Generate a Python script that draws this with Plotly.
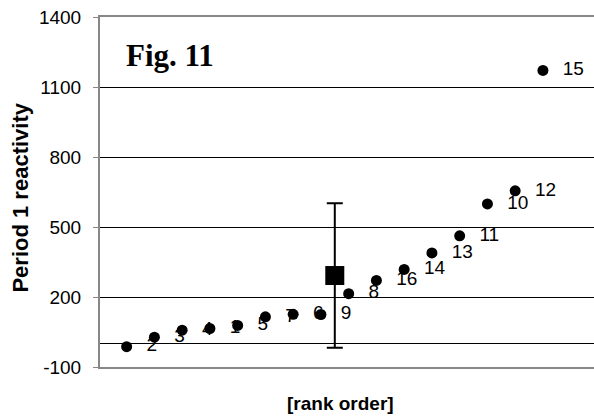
import plotly.graph_objects as go

# Period 1 reactivity of the 16 subjects, sorted in rank order
rank = list(range(1, 17))
subject_ids = ["2", "3", "4", "1", "5", "7", "6", "9", "8", "16", "14", "13", "11", "10", "12", "15"]
reactivity = [-13, 28, 58, 65, 78, 115, 126, 125, 214, 271, 318, 389, 462, 599, 655, 1171]

# group mean and standard deviation, placed between ranks 8 and 9
mean_position = [8.5]
mean_value = [292]
mean_sd = [310]

y_ticks = [-100, 200, 500, 800, 1100, 1400]
y_tick_labels = ["-100", "200", "500", "800", "1100", "1400"]

SANS = "Liberation Sans, Arial, sans-serif"
AXIS_GREY = "#878787"

fig = go.Figure()

# subject number labels (placed to the right of each point, under the markers)
fig.add_trace(go.Scatter(
    x=rank, y=reactivity, mode="markers+text",
    text=subject_ids, textposition="middle right",
    textfont=dict(family=SANS, size=19, color="black"),
    marker=dict(size=30, color="rgba(0,0,0,0)"),
    hoverinfo="skip", showlegend=False,
))

# individual subjects
fig.add_trace(go.Scatter(
    x=rank, y=reactivity, mode="markers",
    marker=dict(size=11, color="black", symbol="circle"),
    showlegend=False,
))

# mean with SD error bar
fig.add_trace(go.Scatter(
    x=mean_position, y=mean_value, mode="markers",
    marker=dict(size=19, color="black", symbol="square"),
    error_y=dict(type="data", array=mean_sd, symmetric=True,
                 color="black", thickness=2, width=8),
    showlegend=False,
))

fig.update_layout(
    width=594, height=417,
    margin=dict(l=100, r=0, t=17, b=50),
    paper_bgcolor="white", plot_bgcolor="white",
    font=dict(family=SANS, size=19, color="black"),
    xaxis=dict(
        range=[0.04, 17.84], showgrid=False, zeroline=False,
        showticklabels=False, ticks="",
        showline=True, linecolor=AXIS_GREY, linewidth=2, mirror=True,
    ),
    yaxis=dict(
        range=[-100, 1400], tickvals=y_ticks, ticktext=y_tick_labels,
        showgrid=True, gridcolor="black", gridwidth=1,
        zeroline=True, zerolinecolor="black", zerolinewidth=1,
        showline=True, linecolor=AXIS_GREY, linewidth=2,
        ticks="outside", ticklen=5, tickcolor=AXIS_GREY, tickwidth=1,
        tickfont=dict(family=SANS, size=19, color="black"),
        ticklabelstandoff=8,
    ),
    annotations=[
        dict(text="<b>Fig. 11</b>", xref="paper", yref="paper",
             x=0.0486, y=0.89, xanchor="left", yanchor="middle",
             showarrow=False,
             font=dict(family="Liberation Serif, Times New Roman, serif", size=31, color="black")),
        dict(text="<b>Period 1 reactivity</b>", xref="paper", yref="paper",
             x=-0.16, y=0.484, xanchor="center", yanchor="middle",
             textangle=-90, showarrow=False,
             font=dict(family=SANS, size=22, color="black")),
        dict(text="<b>[rank order]</b>", xref="paper", yref="paper",
             x=0.486, y=-0.104, xanchor="center", yanchor="middle",
             showarrow=False,
             font=dict(family=SANS, size=19, color="black")),
    ],
)

fig.write_html("out.html")
